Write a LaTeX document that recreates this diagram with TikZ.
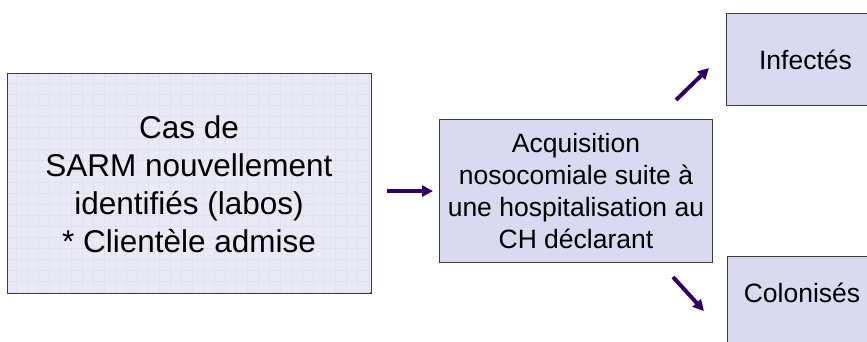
\documentclass[tikz,border=0pt]{standalone}
\usepackage{fontspec}
\setmainfont{Liberation Sans}
\usetikzlibrary{arrows.meta}
\definecolor{boxfill}{RGB}{217,217,240}
\definecolor{gridfill}{RGB}{234,234,246}
\definecolor{gridline}{RGB}{224,224,240}
\definecolor{arrowcol}{RGB}{51,0,102}
\definecolor{edge}{RGB}{60,60,60}
\tikzset{
  flowbox/.style={draw=edge, line width=0.9pt, fill=boxfill, inner sep=0pt, align=center},
  bigtxt/.style={font=\fontsize{31.5}{38}\selectfont, align=center, inner sep=0pt},
  midtxt/.style={font=\fontsize{26.5}{32}\selectfont, align=center, inner sep=0pt},
  flowarrow/.style={draw=arrowcol, line width=4pt, -{Triangle[length=11pt,width=11pt]}}
}
\begin{document}
\begin{tikzpicture}[x=1pt,y=1pt]
\useasboundingbox (0,0) rectangle (867,341);
\clip (0,0) rectangle (867,341);
% left box with grid texture
\node[flowbox, fill=gridfill, minimum width=364pt, minimum height=219pt, anchor=south west] (src) at (7,48) {};
\begin{scope}
  \clip (8,49) rectangle (370,266);
  \draw[gridline, line width=0.6pt, step=11pt, shift={(5,5)}] (0,40) grid (370,270);
\end{scope}
\draw[edge, line width=1pt] (src.south west) rectangle (src.north east);
\node[bigtxt] (srctxt) at (189,157) {Cas de\\SARM nouvellement\\identifiés (labos)\\* Clientèle admise};
% middle box
\node[flowbox, minimum width=273pt, minimum height=143pt, anchor=south west, midtxt] (acq) at (439,78) {Acquisition\\nosocomiale suite à\\une hospitalisation au\\CH déclarant};
% right boxes
\node[flowbox, minimum width=158pt, minimum height=92pt, anchor=south west, midtxt] (inf) at (726,235) {Infectés};
\node[flowbox, minimum width=150pt, minimum height=100pt, anchor=north west] (col) at (727,85) {};
\node[midtxt] (coltxt) at (802,48) {Colonisés};
% arrows
\draw[flowarrow, shorten <=15pt, shorten >=6pt] (src.east |- acq.west) -- (acq.west);
\coordinate (upA) at (676,241);
\coordinate (upB) at (709,273);
\coordinate (dnA) at (673,64);
\coordinate (dnB) at (704,30);
\draw[flowarrow] (upA) -- (upB);
\draw[flowarrow] (dnA) -- (dnB);
\end{tikzpicture}
\end{document}
